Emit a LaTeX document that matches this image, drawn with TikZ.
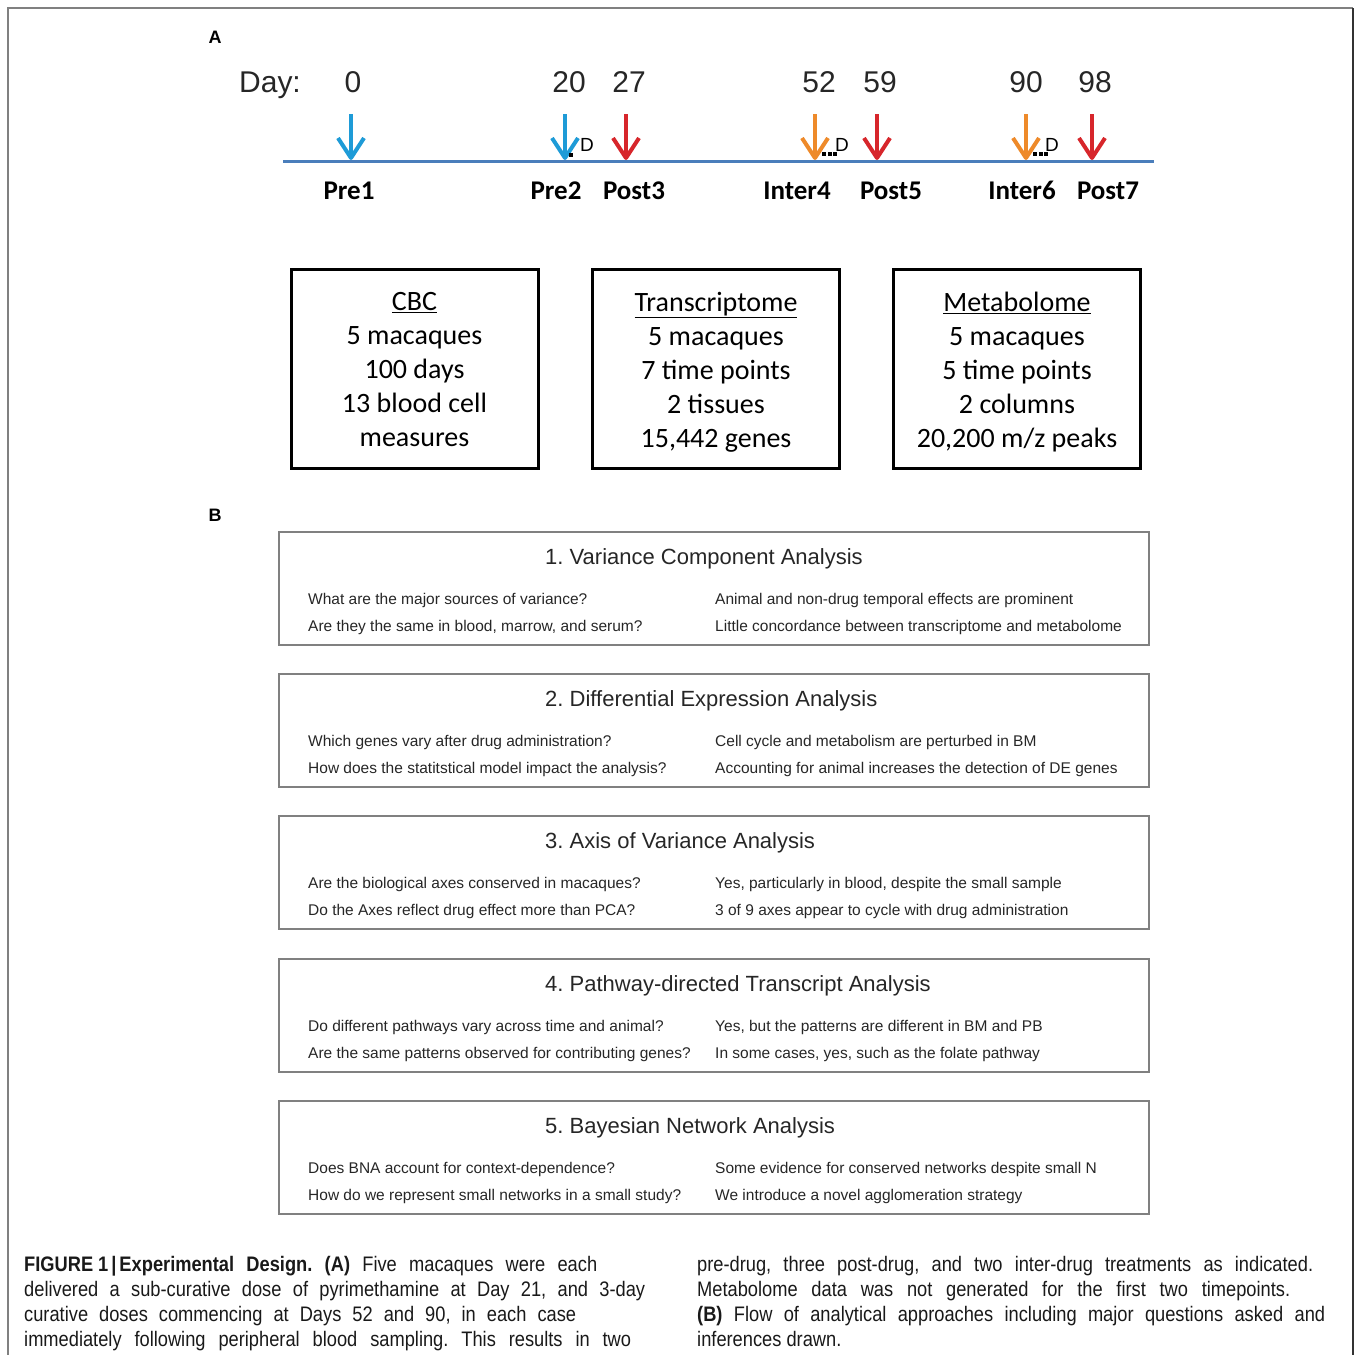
\documentclass[tikz,border=0pt]{standalone}
\usepackage{fontspec}
\setmainfont{Liberation Sans}
\newfontfamily\calfont{Carlito}
\newfontfamily\capfont[FakeStretch=0.87]{Liberation Sans}
\definecolor{tlblue}{HTML}{4A7EBB}
\definecolor{ablue}{HTML}{1E9BD7}
\definecolor{ared}{HTML}{D7262B}
\definecolor{aorange}{HTML}{EE8A2A}
\definecolor{bgray}{HTML}{808080}
\frenchspacing
\begin{document}
\frenchspacing
\begin{tikzpicture}[x=1pt,y=-1pt,
  daytxt/.style={anchor=base, font=\fontsize{30}{36}\selectfont, text=black!85},
  tplabel/.style={anchor=base, font=\calfont\bfseries\fontsize{27}{32}\selectfont},
  dtxt/.style={font=\fontsize{19}{22}\selectfont, inner sep=0pt},
  abox/.style={draw, line width=3pt, minimum width=247pt, minimum height=199pt, inner sep=0pt},
  atxt/.style={align=center, inner sep=0pt, font=\calfont\fontsize{28}{34}\selectfont},
  bbox/.style={draw=bgray, line width=1.5pt, minimum width=870pt, minimum height=113pt, inner sep=0pt},
  btitle/.style={anchor=base west, font=\fontsize{22}{26}\selectfont, text=black!85, inner sep=0pt},
  btxt/.style={anchor=base west, font=\fontsize{15.5}{18}\selectfont, text=black!85, inner sep=0pt},
  panel/.style={anchor=base, font=\bfseries\fontsize{18}{20}\selectfont, inner sep=0pt},
  captxt/.style={anchor=base west, font=\capfont\fontsize{21}{25}\selectfont, inner sep=0pt, text=black!90},
  tmark/.style={line width=4pt, line join=round}
]
\useasboundingbox (0,0) rectangle (1355,1355);
% outer frame
\draw[bgray, line width=1.5pt] (8,1355) -- (8,8) -- (1353,8);
\draw[black!80, line width=1.5pt] (1353,8) -- (1353,1355);

% panel letters
\node[panel] (pA) at (215,43) {A};
\node[panel] (pB) at (215,521) {B};

% timeline
\coordinate (tlS) at (283,161);
\coordinate (tlE) at (1154,161);
\draw[tlblue, line width=3pt] (tlS) -- (tlE);

% arrows
\foreach \xx/\cc in {351/ablue, 565/ablue, 626/ared, 815/aorange, 877/ared, 1026/aorange, 1092/ared} {
  \draw[\cc, tmark] (\xx,114) -- (\xx,157);
  \draw[\cc, tmark] (\xx-13,138) -- (\xx,158) -- (\xx+13,138);
}

% dose markers
\fill (569,153) rectangle (573,157);
\node[dtxt] (d1) at (587,145) {D};
\fill (822,152) rectangle (826,156);
\fill (827.5,152) rectangle (831.5,156);
\fill (833,152) rectangle (837,156);
\node[dtxt] (d2) at (842,145) {D};
\fill (1033,152) rectangle (1037,156);
\fill (1038.5,152) rectangle (1042.5,156);
\fill (1044,152) rectangle (1048,156);
\node[dtxt] (d3) at (1052,145) {D};

% day numbers
\node[daytxt] (day) at (270,92) {Day:};
\node[daytxt] (n0) at (353,92) {0};
\node[daytxt] (n20) at (569,92) {20};
\node[daytxt] (n27) at (629,92) {27};
\node[daytxt] (n52) at (819,92) {52};
\node[daytxt] (n59) at (880,92) {59};
\node[daytxt] (n90) at (1026,92) {90};
\node[daytxt] (n98) at (1095,92) {98};

% time point labels
\node[tplabel] (l1) at (349,199) {Pre1};
\node[tplabel] (l2) at (556,199) {Pre2};
\node[tplabel] (l3) at (634,199) {Post3};
\node[tplabel] (l4) at (797,199) {Inter4};
\node[tplabel] (l5) at (891,199) {Post5};
\node[tplabel] (l6) at (1022,199) {Inter6};
\node[tplabel] (l7) at (1108,199) {Post7};

% data boxes
\node[abox] (cbc) at (414.5,368.5) {};
\node[abox] (tr) at (716,368.5) {};
\node[abox] (me) at (1017,368.5) {};
\node[atxt] (cbct) at (414.5,372) {\underline{CBC}\\5 macaques\\100 days\\13 blood cell\\measures\vphantom{g}};
\node[atxt] (trt) at (716,372) {\underline{Transcriptome}\\5 macaques\\7 time points\\2 tissues\\15,442 genes};
\node[atxt] (met) at (1017,372) {\underline{Metabolome}\\5 macaques\\5 time points\\2 columns\\20,200 m/z peaks};

% analysis boxes
\foreach \i/\top/\ttl/\qa/\qb/\ra/\rb in {
  1/532/{1. Variance Component Analysis}/{What are the major sources of variance?}/{Are they the same in blood, marrow, and serum?}/{Animal and non-drug temporal effects are prominent}/{Little concordance between transcriptome and metabolome},
  2/674/{2. Differential Expression Analysis}/{Which genes vary after drug administration?}/{How does the statitstical model impact the analysis?}/{Cell cycle and metabolism are perturbed in BM}/{Accounting for animal increases the detection of DE genes},
  3/816/{3. Axis of Variance Analysis}/{Are the biological axes conserved in macaques?}/{Do the Axes reflect drug effect more than PCA?}/{Yes, particularly in blood, despite the small sample}/{3 of 9 axes appear to cycle with drug administration},
  4/959/{4. Pathway-directed Transcript Analysis}/{Do different pathways vary across time and animal?}/{Are the same patterns observed for contributing genes?}/{Yes, but the patterns are different in BM and PB}/{In some cases, yes, such as the folate pathway},
  5/1101/{5. Bayesian Network Analysis}/{Does BNA account for context-dependence?}/{How do we represent small networks in a small study?}/{Some evidence for conserved networks despite small N}/{We introduce a novel agglomeration strategy}} {
  \node[bbox] (box\i) at (714,\top+56.5) {};
  \node[btitle] (t\i) at (545,\top+32) {\ttl};
  \node[btxt] (qa\i) at (308,\top+72) {\qa};
  \node[btxt] (qb\i) at (308,\top+99) {\qb};
  \node[btxt] (ra\i) at (715,\top+72) {\ra};
  \node[btxt] (rb\i) at (715,\top+99) {\rb};
}

% caption
\node[captxt] (c1) at (24,1271) {\makebox[573pt][s]{\textbf{FIGURE\hspace{5pt}1\hspace{3pt}|\hspace{3pt}Experimental Design. (A)} Five macaques were each}};
\node[captxt] (c2) at (24,1296) {\makebox[621pt][s]{delivered a sub-curative dose of pyrimethamine at Day 21, and 3-day}};
\node[captxt] (c3) at (24,1321) {\makebox[552pt][s]{curative doses commencing at Days 52 and 90, in each case}};
\node[captxt] (c4) at (24,1346) {\makebox[607pt][s]{immediately following peripheral blood sampling. This results in two}};
\node[captxt] (c5) at (697,1271) {\makebox[616pt][s]{pre-drug, three post-drug, and two inter-drug treatments as indicated.}};
\node[captxt] (c6) at (697,1296) {\makebox[593pt][s]{Metabolome data was not generated for the first two timepoints.}};
\node[captxt] (c7) at (697,1321) {\makebox[628pt][s]{\textbf{(B)} Flow of analytical approaches including major questions asked and}};
\node[captxt] (c8) at (697,1346) {inferences drawn.};
\end{tikzpicture}
\end{document}
